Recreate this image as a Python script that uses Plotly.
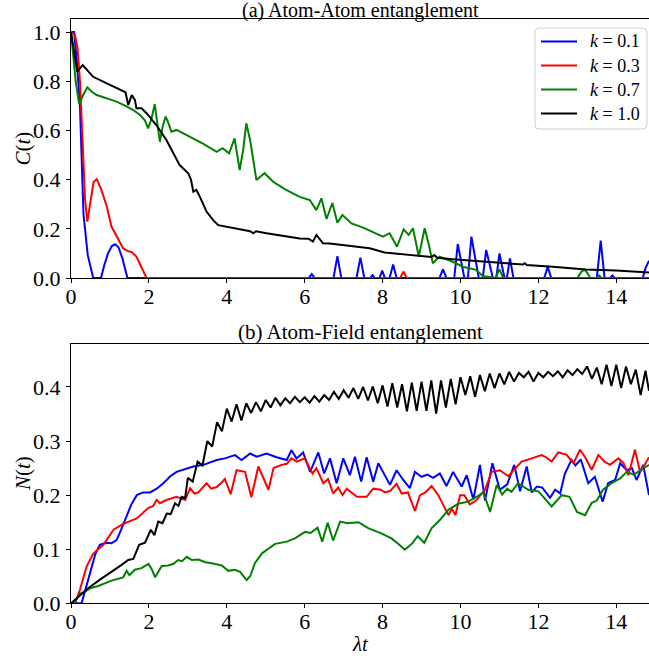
import plotly.graph_objects as go

labels = ["<i>k</i> = 0.1", "<i>k</i> = 0.3", "<i>k</i> = 0.7", "<i>k</i> = 1.0"]
colors = ["#0000ff", "#ff0000", "#008000", "#000000"]

# ---- (a) Atom-Atom entanglement C(t) ----
c_blue = [(0, 1.0), (0.08, 1.0), (0.15, 0.88), (0.23, 0.70), (0.32, 0.26), (0.43, 0.093), (0.57, 0.0),
          (0.77, 0.0), (0.85, 0.05), (0.95, 0.10), (1.05, 0.13), (1.13, 0.137), (1.22, 0.125), (1.32, 0.08),
          (1.40, 0.03), (1.45, 0.0), (6.1, 0.0), (6.18, 0.016), (6.26, 0.0), (6.74, 0.0), (6.84, 0.089),
          (6.94, 0.0), (7.33, 0.0), (7.43, 0.083), (7.53, 0.0), (7.68, 0.0), (7.74, 0.012), (7.8, 0.0),
          (7.92, 0.0), (7.99, 0.03), (8.06, 0.0), (8.18, 0.0), (8.27, 0.055), (8.36, 0.0), (9.46, 0.0),
          (9.55, 0.035), (9.64, 0.0), (9.84, 0.0), (9.93, 0.138), (10.1, 0.0), (10.19, 0.0), (10.28, 0.168),
          (10.47, 0.0), (10.57, 0.0), (10.66, 0.114), (10.83, 0.0), (10.92, 0.0), (11.0, 0.10), (11.13, 0.0),
          (11.19, 0.0), (11.27, 0.08), (11.36, 0.0), (12.15, 0.0), (12.24, 0.046), (12.33, 0.0), (13.5, 0.0),
          (13.6, 0.152), (13.7, 0.0), (13.84, 0.0), (13.9, 0.01), (13.96, 0.0), (14.68, 0.0), (14.75, 0.04),
          (14.84, 0.07)]
c_red = [(0, 1.0), (0.1, 0.99), (0.17, 0.93), (0.23, 0.80), (0.3, 0.55), (0.36, 0.32), (0.42, 0.229),
         (0.5, 0.32), (0.58, 0.39), (0.66, 0.402), (0.75, 0.37), (0.84, 0.33), (0.92, 0.29), (1.04, 0.209),
         (1.2, 0.16), (1.34, 0.12), (1.45, 0.11), (1.56, 0.105), (1.68, 0.087), (1.8, 0.045), (1.94, 0.0),
         (8.45, 0.0), (8.54, 0.026), (8.62, 0.0), (14.84, 0.0)]
c_green = [(0, 1.0), (0.05, 0.92), (0.12, 0.80), (0.21, 0.707), (0.3, 0.74), (0.42, 0.775), (0.55, 0.755),
           (0.66, 0.744), (0.9, 0.73), (1.17, 0.717), (1.4, 0.70), (1.6, 0.683), (1.77, 0.663), (1.9, 0.64),
           (1.98, 0.608), (2.07, 0.65), (2.15, 0.707), (2.22, 0.62), (2.28, 0.554), (2.36, 0.62), (2.43, 0.656),
           (2.5, 0.63), (2.58, 0.595), (2.71, 0.602), (3.05, 0.574), (3.4, 0.545), (3.74, 0.513), (3.89, 0.528),
           (4.06, 0.507), (4.2, 0.568), (4.33, 0.439), (4.42, 0.52), (4.5, 0.629), (4.6, 0.56), (4.76, 0.398),
           (4.97, 0.426), (5.19, 0.391), (5.5, 0.36), (5.87, 0.33), (6.13, 0.317), (6.3, 0.276), (6.43, 0.324),
           (6.56, 0.24), (6.71, 0.305), (6.84, 0.225), (6.97, 0.256), (7.2, 0.222), (7.5, 0.205), (8.01, 0.168),
           (8.18, 0.182), (8.37, 0.127), (8.54, 0.198), (8.67, 0.175), (8.78, 0.202), (8.93, 0.087),
           (9.08, 0.202), (9.18, 0.14), (9.29, 0.06), (9.46, 0.087), (9.8, 0.066), (10.06, 0.046), (10.4, 0.033),
           (10.57, 0.008), (10.7, 0.005), (10.9, 0.0), (11.0, 0.035), (11.1, 0.0), (13.0, 0.0), (13.1, 0.025),
           (13.18, 0.035), (13.26, 0.02), (13.33, 0.0), (13.5, 0.0), (13.56, 0.01), (13.62, 0.0), (14.84, 0.0)]
c_black = [(0, 1.0), (0.08, 0.92), (0.16, 0.839), (0.3, 0.866), (0.57, 0.818), (1.0, 0.785), (1.3, 0.762),
           (1.4, 0.755), (1.47, 0.703), (1.56, 0.744), (1.64, 0.724), (1.68, 0.69), (1.81, 0.69), (1.94, 0.67),
           (2.2, 0.62), (2.45, 0.561), (2.79, 0.459), (3.01, 0.426), (3.08, 0.40), (3.14, 0.351), (3.22, 0.358),
           (3.31, 0.33), (3.48, 0.27), (3.65, 0.235), (3.78, 0.215), (4.5, 0.195), (4.6, 0.19), (4.68, 0.182),
           (4.75, 0.19), (5.02, 0.182), (5.87, 0.161), (6.1, 0.16), (6.21, 0.148), (6.3, 0.175), (6.47, 0.141),
           (6.64, 0.14), (7.67, 0.121), (8.05, 0.104), (8.95, 0.089), (9.25, 0.085), (9.33, 0.093), (9.4, 0.082),
           (9.8, 0.076), (11.08, 0.06), (11.6, 0.055), (11.65, 0.06), (11.7, 0.053), (12.37, 0.046),
           (13.22, 0.035), (14.0, 0.03), (14.84, 0.022)]

# ---- (b) Atom-Field entanglement N(t) ----
n_blue = [(0, 0), (0.27, 0), (0.35, 0.02), (0.49, 0.055), (0.62, 0.09), (0.74, 0.108), (0.9, 0.112),
          (1.04, 0.111), (1.17, 0.117), (1.28, 0.135), (1.39, 0.154), (1.55, 0.183), (1.69, 0.2), (1.85, 0.205),
          (2.03, 0.205), (2.2, 0.212), (2.37, 0.222), (2.55, 0.235), (2.71, 0.243), (2.9, 0.248), (3.14, 0.253),
          (3.4, 0.256), (3.74, 0.265), (3.95, 0.268), (4.21, 0.274), (4.38, 0.265), (4.6, 0.277), (4.77, 0.271),
          (5.02, 0.277), (5.28, 0.27), (5.54, 0.265), (5.66, 0.283), (5.79, 0.268), (5.96, 0.279), (6.14, 0.243),
          (6.35, 0.279), (6.5, 0.24), (6.65, 0.268), (6.82, 0.222), (6.99, 0.268), (7.16, 0.237), (7.29, 0.271),
          (7.45, 0.225), (7.59, 0.27), (7.76, 0.225), (7.89, 0.259), (8.06, 0.235), (8.19, 0.219), (8.36, 0.246),
          (8.53, 0.228), (8.7, 0.213), (8.83, 0.243), (9.0, 0.234), (9.15, 0.238), (9.3, 0.232), (9.47, 0.24),
          (9.64, 0.217), (9.81, 0.243), (10.03, 0.216), (10.16, 0.237), (10.33, 0.192), (10.5, 0.256),
          (10.63, 0.19), (10.82, 0.259), (11.01, 0.21), (11.2, 0.22), (11.38, 0.256), (11.53, 0.207),
          (11.7, 0.253), (11.83, 0.205), (11.96, 0.216), (12.1, 0.214), (12.3, 0.195), (12.43, 0.21),
          (12.56, 0.203), (12.68, 0.24), (12.85, 0.265), (12.95, 0.255), (13.09, 0.266), (13.28, 0.222),
          (13.45, 0.234), (13.65, 0.188), (13.79, 0.222), (13.97, 0.228), (14.1, 0.259), (14.27, 0.246),
          (14.4, 0.25), (14.52, 0.228), (14.69, 0.256), (14.84, 0.2)]
n_red = [(0, 0), (0.12, 0.003), (0.23, 0.025), (0.4, 0.068), (0.57, 0.092), (0.7, 0.1), (0.83, 0.108),
         (1.09, 0.136), (1.34, 0.147), (1.69, 0.157), (1.98, 0.176), (2.11, 0.18), (2.2, 0.191), (2.28, 0.185),
         (2.45, 0.191), (2.71, 0.197), (2.93, 0.191), (3.06, 0.213), (3.17, 0.203), (3.27, 0.205), (3.48, 0.222),
         (3.6, 0.212), (3.74, 0.215), (3.89, 0.225), (3.95, 0.23), (4.1, 0.202), (4.25, 0.246), (4.47, 0.243),
         (4.63, 0.196), (4.81, 0.253), (4.96, 0.228), (5.07, 0.21), (5.2, 0.25), (5.41, 0.256), (5.54, 0.258),
         (5.66, 0.268), (5.8, 0.262), (6.0, 0.268), (6.2, 0.24), (6.3, 0.25), (6.48, 0.222), (6.6, 0.23),
         (6.73, 0.203), (6.86, 0.214), (6.97, 0.2), (7.08, 0.212), (7.34, 0.197), (7.59, 0.197), (7.76, 0.212),
         (7.95, 0.21), (8.06, 0.205), (8.2, 0.208), (8.36, 0.221), (8.49, 0.203), (8.65, 0.205), (8.83, 0.171),
         (8.96, 0.2), (9.1, 0.205), (9.26, 0.217), (9.43, 0.2), (9.6, 0.176), (9.69, 0.163), (9.78, 0.175),
         (9.87, 0.163), (9.99, 0.2), (10.1, 0.2), (10.24, 0.183), (10.4, 0.19), (10.63, 0.21), (10.8, 0.243),
         (11.01, 0.246), (11.23, 0.235), (11.4, 0.249), (11.57, 0.262), (11.83, 0.268), (12.08, 0.274),
         (12.2, 0.27), (12.34, 0.262), (12.51, 0.279), (12.72, 0.275), (12.9, 0.259), (13.07, 0.284),
         (13.2, 0.27), (13.37, 0.247), (13.54, 0.274), (13.7, 0.262), (13.84, 0.256), (14.05, 0.268),
         (14.18, 0.26), (14.31, 0.237), (14.48, 0.284), (14.61, 0.243), (14.72, 0.255), (14.84, 0.27)]
n_green = [(0, 0), (0.1, 0.003), (0.23, 0.018), (0.36, 0.021), (0.49, 0.028), (0.7, 0.032), (1.04, 0.042),
           (1.34, 0.048), (1.43, 0.06), (1.5, 0.052), (1.64, 0.062), (1.81, 0.065), (1.99, 0.073), (2.08, 0.062),
           (2.16, 0.048), (2.33, 0.069), (2.5, 0.07), (2.63, 0.073), (2.75, 0.08), (2.85, 0.078), (2.97, 0.086),
           (3.1, 0.08), (3.27, 0.081), (3.45, 0.076), (3.61, 0.074), (3.87, 0.07), (4.04, 0.06), (4.21, 0.062),
           (4.34, 0.058), (4.51, 0.043), (4.6, 0.05), (4.72, 0.074), (4.9, 0.092), (5.24, 0.11), (5.54, 0.114),
           (5.75, 0.12), (6.01, 0.132), (6.15, 0.13), (6.33, 0.14), (6.45, 0.114), (6.59, 0.149), (6.73, 0.116),
           (6.91, 0.151), (7.1, 0.148), (7.38, 0.15), (7.63, 0.139), (7.98, 0.129), (8.23, 0.12), (8.4, 0.11),
           (8.57, 0.099), (8.75, 0.11), (8.9, 0.124), (9.07, 0.112), (9.26, 0.139), (9.47, 0.154), (9.69, 0.173),
           (9.94, 0.184), (10.2, 0.188), (10.41, 0.197), (10.59, 0.205), (10.76, 0.169), (10.93, 0.219),
           (11.07, 0.201), (11.2, 0.212), (11.31, 0.206), (11.48, 0.222), (11.74, 0.21), (12.0, 0.207),
           (12.15, 0.195), (12.34, 0.179), (12.6, 0.2), (12.8, 0.197), (12.99, 0.169), (13.2, 0.163),
           (13.37, 0.186), (13.5, 0.19), (13.66, 0.21), (13.88, 0.222), (14.1, 0.231), (14.27, 0.243),
           (14.45, 0.238), (14.61, 0.246), (14.84, 0.256)]
n_black = [(0, 0), (0.2, 0.012), (0.44, 0.028), (0.79, 0.046), (1.13, 0.062), (1.3, 0.071), (1.47, 0.08),
           (1.6, 0.082), (1.75, 0.108), (1.9, 0.112), (2.05, 0.136), (2.14, 0.126), (2.24, 0.151), (2.35, 0.148),
           (2.46, 0.166), (2.56, 0.165), (2.67, 0.185), (2.76, 0.18), (2.84, 0.197), (2.93, 0.195),
           (3.0, 0.232), (3.125, 0.225), (3.25, 0.262), (3.375, 0.255), (3.5, 0.30), (3.625, 0.29),
           (3.75, 0.335), (3.875, 0.318), (4.0, 0.36), (4.125, 0.336), (4.25, 0.368), (4.375, 0.338),
           (4.5, 0.37), (4.625, 0.352), (4.75, 0.372), (4.875, 0.355), (5.0, 0.376), (5.125, 0.362),
           (5.25, 0.38), (5.375, 0.366), (5.5, 0.379), (5.625, 0.37), (5.75, 0.382), (5.875, 0.372),
           (6.0, 0.381), (6.125, 0.371), (6.25, 0.383), (6.375, 0.373), (6.5, 0.385), (6.625, 0.376),
           (6.75, 0.391), (6.875, 0.378), (7.0, 0.394), (7.125, 0.38), (7.25, 0.398), (7.375, 0.378),
           (7.5, 0.40), (7.625, 0.375), (7.75, 0.401), (7.875, 0.37), (8.0, 0.403), (8.125, 0.364),
           (8.25, 0.407), (8.375, 0.362), (8.5, 0.405), (8.625, 0.355), (8.75, 0.408), (8.875, 0.356),
           (9.0, 0.41), (9.125, 0.356), (9.25, 0.412), (9.375, 0.351), (9.5, 0.412), (9.625, 0.362),
           (9.75, 0.415), (9.875, 0.368), (10.0, 0.418), (10.125, 0.385), (10.25, 0.42), (10.375, 0.382),
           (10.5, 0.422), (10.625, 0.392), (10.75, 0.425), (10.875, 0.398), (11.0, 0.425), (11.125, 0.405),
           (11.25, 0.428), (11.375, 0.41), (11.5, 0.426), (11.625, 0.418), (11.75, 0.428), (11.875, 0.41),
           (12.0, 0.426), (12.125, 0.418), (12.25, 0.428), (12.375, 0.42), (12.5, 0.429), (12.625, 0.418),
           (12.75, 0.431), (12.875, 0.422), (13.0, 0.433), (13.125, 0.424), (13.25, 0.438), (13.375, 0.415),
           (13.5, 0.436), (13.625, 0.405), (13.75, 0.441), (13.875, 0.402), (14.0, 0.441), (14.125, 0.398),
           (14.25, 0.438), (14.375, 0.405), (14.5, 0.432), (14.625, 0.385), (14.75, 0.43), (14.84, 0.393)]

x_ticks = [0, 2, 4, 6, 8, 10, 12, 14]
c_ticks = [0.0, 0.2, 0.4, 0.6, 0.8, 1.0]
n_ticks = [0.0, 0.1, 0.2, 0.3, 0.4]

FONT = "Liberation Serif"
W, H = 649, 660
ML = 71
PW = W - ML

def px(xp):  # page pixel -> paper x (plot area starts at margin)
    return (xp - ML) / PW

def py(yp):  # page pixel -> paper y
    return (H - yp) / H

fig = go.Figure()
for series, col, lab in zip([c_blue, c_red, c_green, c_black], colors, labels):
    t, v = zip(*series)
    fig.add_trace(go.Scatter(x=list(t), y=list(v), mode="lines", line=dict(color=col, width=2),
                             name=lab, xaxis="x", yaxis="y", showlegend=False))
for series, col, lab in zip([n_blue, n_red, n_green, n_black], colors, labels):
    t, v = zip(*series)
    fig.add_trace(go.Scatter(x=list(t), y=list(v), mode="lines", line=dict(color=col, width=2),
                             name=lab, xaxis="x2", yaxis="y2", showlegend=False))

axis_common = dict(showline=True, linecolor="black", linewidth=1.2, ticks="outside", ticklen=4,
                   tickcolor="black", showgrid=False, zeroline=False, automargin=False,
                   tickfont=dict(family=FONT, size=22, color="black"))

# ---- manual legend (matplotlib style box) ----
bx0, bx1, by0, by1, r = 535, 647, 28, 129, 4
path = (f"M {px(bx0 + r)},{py(by0)} L {px(bx1 - r)},{py(by0)} Q {px(bx1)},{py(by0)} {px(bx1)},{py(by0 + r)} "
        f"L {px(bx1)},{py(by1 - r)} Q {px(bx1)},{py(by1)} {px(bx1 - r)},{py(by1)} "
        f"L {px(bx0 + r)},{py(by1)} Q {px(bx0)},{py(by1)} {px(bx0)},{py(by1 - r)} "
        f"L {px(bx0)},{py(by0 + r)} Q {px(bx0)},{py(by0)} {px(bx0 + r)},{py(by0)} Z")
shapes = [dict(type="path", path=path, xref="paper", yref="paper", fillcolor="rgba(255,255,255,0.8)",
               line=dict(color="#cccccc", width=1), layer="above")]
annotations = []
for i, (col, lab) in enumerate(zip(colors, labels)):
    yy = 41.5 + 24 * i
    shapes.append(dict(type="line", xref="paper", yref="paper", x0=px(541), x1=px(577), y0=py(yy), y1=py(yy),
                       line=dict(color=col, width=2), layer="above"))
    annotations.append(dict(text=lab, x=px(588), y=py(yy), xref="paper", yref="paper", xanchor="left",
                            yanchor="middle", showarrow=False, font=dict(family=FONT, size=18, color="black")))

title_font = dict(family=FONT, size=21, color="black")
annotations += [
    dict(text="(a) Atom-Atom entanglement", x=0.5, xref="x domain", y=py(24), yref="paper",
         yanchor="bottom", showarrow=False, font=dict(family=FONT, size=20, color="black")),
    dict(text="(b) Atom-Field entanglement", x=0.5, xref="x domain", y=py(346), yref="paper",
         yanchor="bottom", showarrow=False, font=title_font),
    dict(text="<i>C</i>(<i>t</i>)", x=px(23), y=py(148.5), xref="paper", yref="paper", textangle=-90,
         xanchor="center", yanchor="middle", showarrow=False, font=title_font),
    dict(text="<i>N</i>(<i>t</i>)", x=px(23), y=py(474), xref="paper", yref="paper", textangle=-90,
         xanchor="center", yanchor="middle", showarrow=False, font=title_font),
    dict(text="<i>λt</i>", x=0.5, xref="x domain", y=py(644), yref="paper",
         xanchor="center", yanchor="middle", showarrow=False, font=title_font),
]

fig.update_layout(
    width=W, height=H,
    margin=dict(l=ML, r=0, t=0, b=0, pad=0),
    paper_bgcolor="white", plot_bgcolor="white",
    showlegend=False,
    xaxis=dict(domain=[0, 1], range=[0, 14.84], tickvals=x_ticks, mirror=True, anchor="y",
               ticklabelstandoff=-6, **axis_common),
    yaxis=dict(domain=[py(278), py(19)], range=[0, 1.053], tickvals=c_ticks, tickformat=".1f", anchor="x",
               ticklabelstandoff=1, **axis_common),
    xaxis2=dict(domain=[0, 1], range=[0, 14.84], tickvals=x_ticks, mirror=True, anchor="y2",
                ticklabelstandoff=-6, **axis_common),
    yaxis2=dict(domain=[py(603.3), py(344)], range=[0, 0.4795], tickvals=n_ticks, tickformat=".1f",
                anchor="x2", ticklabelstandoff=1, **axis_common),
    shapes=shapes,
    annotations=annotations,
)

fig.write_html("out.html")
